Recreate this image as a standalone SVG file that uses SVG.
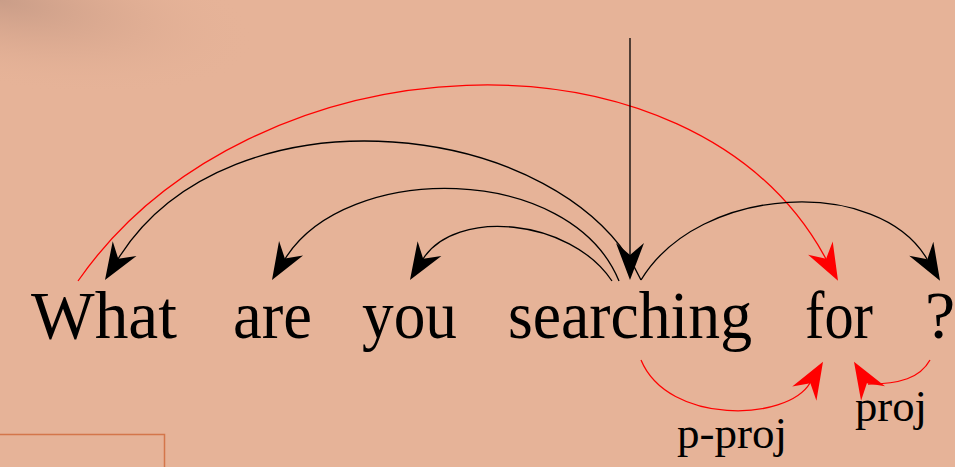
<svg xmlns="http://www.w3.org/2000/svg" width="955" height="467" viewBox="0 0 955 467">
  <style>
    .word { font-family: "Liberation Serif", "DejaVu Serif", serif; font-size: 68px; fill: #000; }
    .lbl { font-family: "Liberation Serif", "DejaVu Serif", serif; font-size: 44px; fill: #000; }
    .arc { fill: none; stroke: #000; stroke-width: 1.3; }
    .arc.red { stroke: #ff0000; }
    .head { fill: #000; }
    .head.red { fill: #ff0000; }
  </style>
  <defs>
    <radialGradient id="shade" cx="0" cy="0" r="1" gradientUnits="userSpaceOnUse" gradientTransform="rotate(10) scale(260,85)">
      <stop offset="0" stop-color="#c09683" stop-opacity="0.75"/>
      <stop offset="0.5" stop-color="#cc9d87" stop-opacity="0.3"/>
      <stop offset="1" stop-color="#e6b398" stop-opacity="0"/>
    </radialGradient>
    <path id="stl" d="M0,0 L-37,-14 L-25,0 L-37,14 Z"/>
  </defs>

  <rect x="0" y="0" width="955" height="467" fill="#e6b398"/>
  <rect x="0" y="0" width="955" height="467" fill="url(#shade)"/>
  <rect x="-2" y="434.5" width="166.5" height="40" fill="none" stroke="#d4764a" stroke-width="1.5"/>

  <g id="connectors">
    <path class="arc red" d="M78,281 C249,35 693,12.6 826,259"/>
    <path class="arc" d="M641,280 C565,118 229,81 118,259"/>
    <path class="arc" d="M619,281 C570,162 345.6,161.2 285,259"/>
    <path class="arc" d="M612,281 C570,218 455,208 423,259"/>
    <path class="arc" d="M641,280 C700,183 879,177 927,259"/>
    <path class="arc" d="M630,38 L630,258"/>
    <path class="arc red" d="M641,360 C668,425 787,421.8 810,383"/>
    <path class="arc red" d="M930,360 C920,378 900,384 868,384"/>
    <use class="head" href="#stl" transform="translate(105,280) rotate(122)"/>
    <use class="head" href="#stl" transform="translate(272,280) rotate(121)"/>
    <use class="head" href="#stl" transform="translate(410,280) rotate(121.8)"/>
    <use class="head" href="#stl" transform="translate(630,280) rotate(90)"/>
    <use class="head red" href="#stl" transform="translate(838,280.7) rotate(61.6)"/>
    <use class="head" href="#stl" transform="translate(940,280.7) rotate(59.6)"/>
    <use class="head red" href="#stl" transform="translate(823,361.7) rotate(-59.7)"/>
    <use class="head red" href="#stl" transform="translate(854,361.7) rotate(-121)"/>
  </g>

  <g id="w-what"><text class="word" x="31" y="338" textLength="146" lengthAdjust="spacingAndGlyphs">What</text></g>
  <g id="w-are"><text class="word" x="233" y="338" textLength="79" lengthAdjust="spacingAndGlyphs">are</text></g>
  <g id="w-you"><text class="word" x="362" y="338" textLength="95" lengthAdjust="spacingAndGlyphs">you</text></g>
  <g id="w-searching"><text class="word" x="508" y="338" textLength="244" lengthAdjust="spacingAndGlyphs">searching</text></g>
  <g id="w-for"><text class="word" x="805" y="338" textLength="68" lengthAdjust="spacingAndGlyphs">for</text></g>
  <g id="w-q"><text class="word" x="940" y="338" text-anchor="middle">?</text></g>
  <g id="l-pproj"><text class="lbl" x="677" y="448" textLength="110" lengthAdjust="spacingAndGlyphs">p-proj</text></g>
  <g id="l-proj"><text class="lbl" x="855" y="421" textLength="72" lengthAdjust="spacingAndGlyphs">proj</text></g>
</svg>
